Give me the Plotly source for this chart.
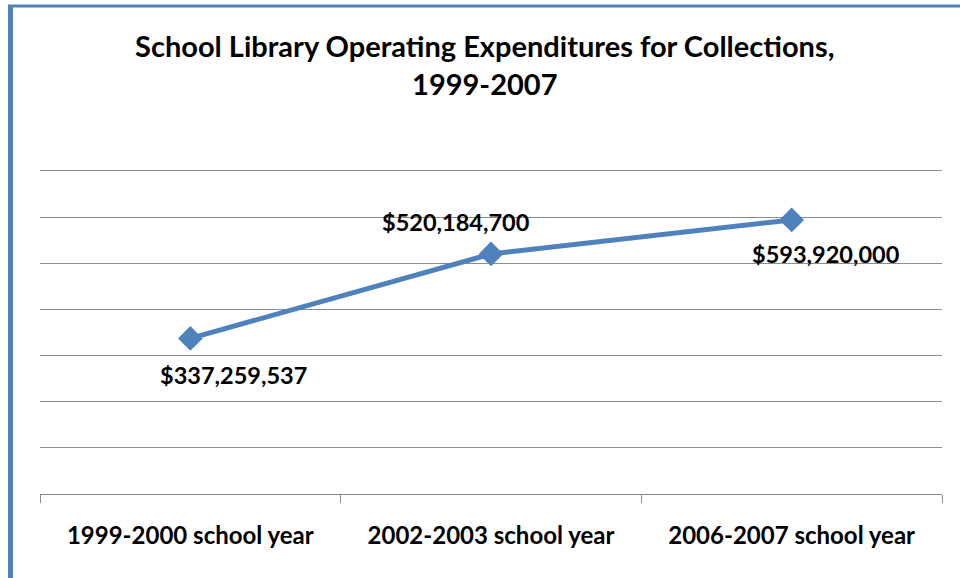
import plotly.graph_objects as go

# School years and collection spending (US dollars)
school_years = ["1999-2000 school year", "2002-2003 school year", "2006-2007 school year"]
expenditures = [337259537, 520184700, 593920000]
value_labels = ["$337,259,537", "$520,184,700", "$593,920,000"]

BLUE = "#4F81BD"
GRID = "#8C8C8C"
FONT = "Lato, Calibri, Carlito, sans-serif"

fig = go.Figure()
fig.add_trace(go.Scatter(
    x=school_years,
    y=expenditures,
    mode="lines+markers",
    line=dict(color=BLUE, width=5),
    marker=dict(symbol="diamond", size=19, color=BLUE),
    hoverinfo="skip",
    showlegend=False,
))

# Value labels placed around each point
offsets = [(43, -37), (-35, 32), (34, -34)]
for xv, yv, txt, (dx, dy) in zip(school_years, expenditures, value_labels, offsets):
    fig.add_annotation(
        x=xv, y=yv, text=txt, showarrow=False,
        xshift=dx, yshift=dy,
        font=dict(family=FONT, size=23.5, color="black", weight="bold"),
    )

fig.update_layout(
    width=960, height=578,
    margin=dict(l=40, r=18, t=171, b=84, autoexpand=False),
    paper_bgcolor="white",
    plot_bgcolor="white",
    title=dict(
        text="School Library Operating Expenditures for Collections,<br>1999-2007",
        x=0.505, xanchor="center",
        y=0.901, yanchor="top",
        font=dict(family=FONT, size=29, color="black", weight="bold"),
    ),
    xaxis=dict(
        type="category",
        range=[-0.5, 2.5],
        tickson="boundaries",
        ticks="outside",
        ticklen=8,
        tickwidth=1.3,
        tickcolor=GRID,
        ticklabelstandoff=20,
        showline=True,
        mirror=True,
        linecolor=GRID,
        linewidth=1.3,
        showgrid=False,
        automargin=False,
        tickfont=dict(family=FONT, size=24, color="black", weight="bold"),
        fixedrange=True,
    ),
    yaxis=dict(
        range=[0, 700000000],
        dtick=100000000,
        showgrid=True,
        gridcolor=GRID,
        gridwidth=1.3,
        showticklabels=False,
        zeroline=False,
        automargin=False,
        fixedrange=True,
    ),
    shapes=[
        # blue frame along the left and top edges
        dict(type="line", xref="paper", yref="paper",
             x0=(10.5 - 40) / 902, x1=(10.5 - 40) / 902,
             y0=(494 - 6) / 323, y1=(494 - 600) / 323,
             line=dict(color=BLUE, width=5)),
        dict(type="line", xref="paper", yref="paper",
             x0=(8 - 40) / 902, x1=(980 - 40) / 902,
             y0=(494 - 6) / 323, y1=(494 - 6) / 323,
             line=dict(color=BLUE, width=3)),
    ],
)

fig.write_html("out.html")
